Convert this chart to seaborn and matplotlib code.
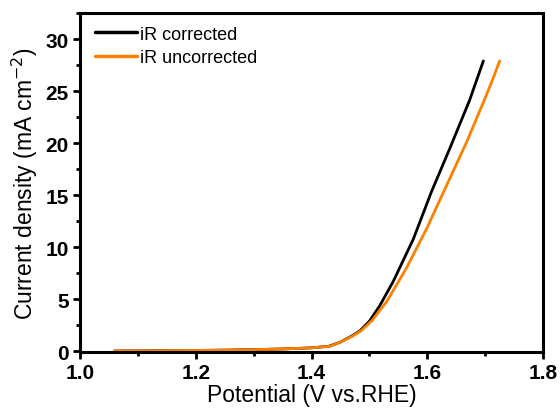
import numpy as np
import pandas as pd
import matplotlib
matplotlib.use("Agg")
import matplotlib.pyplot as plt
import seaborn as sns
from matplotlib.ticker import MultipleLocator

# Data
v_corr = [1.06, 1.10, 1.20, 1.25, 1.30, 1.35, 1.40, 1.43, 1.45, 1.47, 1.484, 1.50, 1.518, 1.541, 1.576, 1.607, 1.639, 1.673, 1.685, 1.697]
j_corr = [0.05, 0.06, 0.10, 0.13, 0.18, 0.24, 0.35, 0.50, 0.90, 1.50, 2.0, 2.9, 4.4, 6.7, 10.8, 15.3, 19.5, 24.1, 26.0, 27.9]

v_unc = [1.06, 1.10, 1.20, 1.25, 1.30, 1.35, 1.40, 1.432, 1.45, 1.47, 1.486, 1.505, 1.530, 1.564, 1.599, 1.633, 1.668, 1.702, 1.715, 1.725]
j_unc = [0.05, 0.06, 0.10, 0.13, 0.18, 0.24, 0.35, 0.50, 0.90, 1.45, 2.0, 3.0, 4.8, 8.0, 11.8, 15.9, 20.1, 24.6, 26.4, 27.9]

labels = ["iR corrected", "iR uncorrected"]

df = pd.concat([
    pd.DataFrame({"V": v_corr, "J": j_corr, "series": labels[0]}),
    pd.DataFrame({"V": v_unc, "J": j_unc, "series": labels[1]}),
])

sns.set_style("ticks")
plt.rcParams["font.family"] = ["Liberation Sans", "DejaVu Sans"]
plt.rcParams["mathtext.fontset"] = "custom"
plt.rcParams["mathtext.rm"] = "Liberation Sans"
plt.rcParams["mathtext.default"] = "regular"
plt.rcParams["text.color"] = "black"
plt.rcParams["axes.labelcolor"] = "black"
plt.rcParams["xtick.color"] = "black"
plt.rcParams["ytick.color"] = "black"
plt.rcParams["axes.edgecolor"] = "black"

fig = plt.figure(figsize=(5.6, 4.14), dpi=100)
ax = fig.add_axes([80/560, 1-353/414, (543-80)/560, (353-14)/414])

sns.lineplot(data=df, x="V", y="J", hue="series", palette=["#000000", "#FF8000"],
             linewidth=2.0, ax=ax, sort=False, estimator=None)

ax.set_xlim(1.0, 1.8)
ax.set_ylim(-0.05, 32.5)
ax.xaxis.set_major_locator(MultipleLocator(0.2))
ax.xaxis.set_minor_locator(MultipleLocator(0.1))
ax.yaxis.set_major_locator(MultipleLocator(5))
ax.yaxis.set_minor_locator(MultipleLocator(2.5))
ax.xaxis.set_major_formatter(matplotlib.ticker.FormatStrFormatter("%.1f"))

for s in ax.spines.values():
    s.set_linewidth(2.2)
    s.set_color("black")
    s.set_visible(True)
ax.tick_params(which="major", direction="out", length=5, width=2, labelsize=15, pad=3)
ax.tick_params(which="minor", direction="out", length=3, width=2)
ax.tick_params(top=False, right=False, which="both")
for t in ax.get_xticklabels() + ax.get_yticklabels():
    t.set_fontweight("bold")

ax.set_xlabel("Potential (V vs.RHE)", fontsize=16.5, labelpad=1)
ax.set_ylabel("Current density (mA cm$^{\\mathsf{-2}}$)", fontsize=16.5, labelpad=4)

leg = ax.legend(loc="upper left", frameon=False, fontsize=13, handlelength=2.35,
                handletextpad=0.15, labelspacing=0.35, borderaxespad=0.3,
                bbox_to_anchor=(0.005, 1.0))
for line in leg.get_lines():
    line.set_linewidth(2.5)

fig.savefig("out.png", dpi=100)
